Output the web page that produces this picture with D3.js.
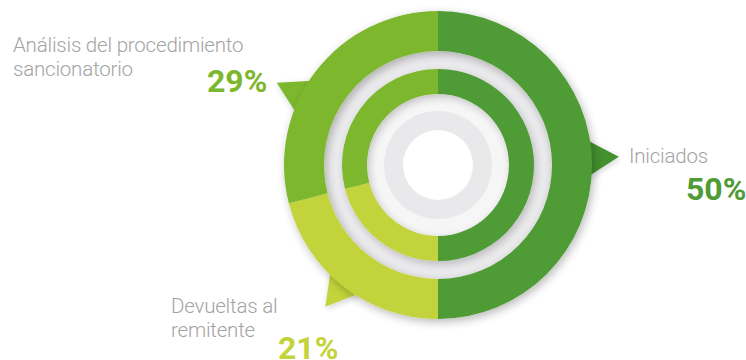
<!DOCTYPE html>
<html>
<head>
<meta charset="utf-8">
<script src="https://cdn.jsdelivr.net/npm/d3@7"></script>
<style>
  html, body { margin: 0; padding: 0; background: #ffffff; }
  svg { display: block; }
</style>
</head>
<body>
<svg id="chart" width="746" height="360"></svg>
<script>
// Estado de los expedientes
const categories = ["Iniciados", "Devueltas al remitente", "Análisis del procedimiento sancionatorio"];
const values = [50, 21, 29];
const labelLines = [["Iniciados"], ["Devueltas al", "remitente"], ["Análisis del procedimiento", "sancionatorio"]];
const colors = ["#4f9b36", "#c3d33b", "#7db72e"];
const pointerColors = ["#43902f", "#c3d33b", "#7db72e"];

const W = 746, H = 360;
const cx = 438, cy = 165;
const svg = d3.select("#chart");
const defs = svg.append("defs");

function shadow(id, dx, dy, sd, op) {
  const f = defs.append("filter").attr("id", id)
    .attr("x", "-30%").attr("y", "-30%").attr("width", "160%").attr("height", "160%");
  f.append("feGaussianBlur").attr("in", "SourceAlpha").attr("stdDeviation", sd);
  f.append("feOffset").attr("dx", dx).attr("dy", dy).attr("result", "o");
  f.append("feComponentTransfer").attr("result", "s")
    .append("feFuncA").attr("type", "linear").attr("slope", op);
  const m = f.append("feMerge");
  m.append("feMergeNode").attr("in", "s");
  m.append("feMergeNode").attr("in", "SourceGraphic");
}
shadow("ringShadow", 2, 3, 5, 0.28);
shadow("innerShadow", 2, 3, 4, 0.22);
shadow("pointerShadow", 1, 2, 3, 0.18);

const g = svg.append("g").attr("transform", `translate(${cx},${cy})`);

const pie = d3.pie().sort(null).value(d => d)(values);
const total = d3.sum(values);

// Rings
const outerArc = d3.arc().innerRadius(114).outerRadius(154);
const innerArc = d3.arc().innerRadius(71).outerRadius(96);

// Grey band between the rings and the centre discs
g.append("circle").attr("r", 114).attr("fill", "#ebebed");
g.append("circle").attr("r", 71).attr("fill", "#f6f6f7");
g.append("circle").attr("r", 54).attr("fill", "#e9e9eb");
g.append("circle").attr("r", 35).attr("fill", "#ffffff");

// Pointer triangles, placed at each segment's middle angle
const nudge = [-2.6, 0.7, -10.8].map(d => d * Math.PI / 180);
const tipR = 181, baseR = 138, halfBase = 25;
g.append("g").attr("filter", "url(#pointerShadow)")
  .selectAll("path").data(pie).join("path")
  .attr("fill", (d, i) => pointerColors[i])
  .attr("d", (d, i) => {
    const a = (d.startAngle + d.endAngle) / 2 + nudge[i];
    const ux = Math.sin(a), uy = -Math.cos(a);
    const px = -uy, py = ux;
    const tip = [ux * tipR, uy * tipR];
    const b1 = [ux * baseR + px * halfBase, uy * baseR + py * halfBase];
    const b2 = [ux * baseR - px * halfBase, uy * baseR - py * halfBase];
    return `M${tip}L${b1}L${b2}Z`;
  });

g.append("g").attr("filter", "url(#ringShadow)")
  .selectAll("path").data(pie).join("path")
  .attr("d", outerArc).attr("fill", (d, i) => colors[i]);

g.append("g").attr("filter", "url(#innerShadow)")
  .selectAll("path").data(pie).join("path")
  .attr("d", innerArc).attr("fill", (d, i) => colors[i]);

// Labels
const labelPos = [
  { x: 629, y: 163, px: 686, py: 200 },
  { x: 171, y: 313, px: 278, py: 359 },
  { x: 13, y: 52, px: 207, py: 92 }
];
const labels = svg.append("g");
pie.forEach((d, i) => {
  const p = labelPos[i];
  const t = labels.append("text")
    .attr("x", p.x).attr("y", p.y)
    .attr("font-family", "Roboto, sans-serif")
    .attr("font-weight", 300)
    .attr("font-size", 20.5)
    .attr("letter-spacing", -0.2)
    .attr("fill", "#a3a3a3");
  labelLines[i].forEach((line, j) => {
    t.append("tspan").attr("x", p.x).attr("dy", j === 0 ? 0 : 24).text(line);
  });
  labels.append("text")
    .attr("x", p.px).attr("y", p.py)
    .attr("font-family", "Roboto, sans-serif")
    .attr("font-weight", 700)
    .attr("font-size", 32)
    .attr("fill", colors[i])
    .text(Math.round(d.value / total * 100) + "%");
});
</script>
</body>
</html>
